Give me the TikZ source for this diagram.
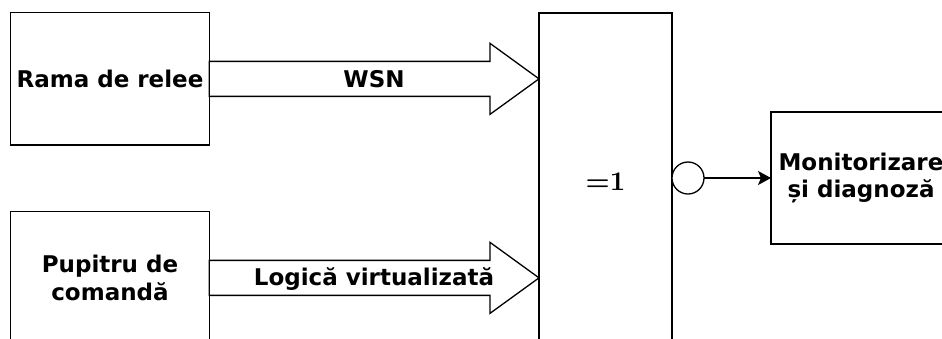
\documentclass[tikz,border=0pt]{standalone}
\usepackage{fontspec}
\newfontfamily\labelfont{DejaVu Sans}
\newfontfamily\gatefont{lmroman10-bold}[Extension=.otf]
\usetikzlibrary{calc,arrows.meta}
\begin{document}
\begin{tikzpicture}[x=1pt,y=-1pt,
  labeltext/.style={font=\labelfont\bfseries\fontsize{23}{27.6}\selectfont},
  box/.style={draw,line width=1.3pt,fill=white,rectangle,inner sep=0pt,
    outer sep=0pt,align=center,labeltext},
  lbl/.style={labeltext,inner sep=0pt,anchor=base},
  blockarrow/.style={draw,line width=1.3pt,fill=white,line join=miter}]
\clip (0,0) rectangle (942,338);
\fill[white] (0,0) rectangle (942,338);

% input boxes
\node[box,minimum width=198.6pt,minimum height=132.3pt] (rama) at (110,78.85) {Rama de relee};
\node[box,minimum width=198.6pt,minimum height=132.3pt] (pupitru) at (110,277.85) {Pupitru de\\comandă};

% XOR block with negated output
\node[box,minimum width=133pt,minimum height=330pt] (xor) at (605.5,178) {};
\node[inner sep=0pt,anchor=base,font=\gatefont\fontsize{27}{31}\selectfont] (eq) at (605.5,190.7) {=1};
\node[circle,draw,fill=white,line width=1.3pt,minimum size=32pt,inner sep=0pt,
  outer sep=0pt,anchor=west] (neg) at (xor.east) {};

% output box
\node[box,minimum width=180pt,minimum height=132pt] (monitor) at (861,178) {Monitorizare\\și diagnoză};

% block arrows into the XOR block
\draw[blockarrow] ($(rama.east)+(0,-17.5)$)
  -- ($(xor.west |- rama.east)+(-49,-17.5)$) -- ++(0,-18)
  -- (xor.west |- rama.east)
  -- ($(xor.west |- rama.east)+(-49,35.5)$) -- ++(0,-18)
  -- ($(rama.east)+(0,17.5)$) -- cycle;
\draw[blockarrow] ($(pupitru.east)+(0,-17.5)$)
  -- ($(xor.west |- pupitru.east)+(-49,-17.5)$) -- ++(0,-18)
  -- (xor.west |- pupitru.east)
  -- ($(xor.west |- pupitru.east)+(-49,35.5)$) -- ++(0,-18)
  -- ($(pupitru.east)+(0,17.5)$) -- cycle;

\node[lbl] (wsn) at (374,87) {WSN};
\node[lbl] (logica) at (374,285.8) {Logică virtualizată};

% output connector
\draw[line width=1.3pt,-{Stealth[length=13pt,width=14pt,inset=3pt]}] (neg) -- (monitor);
\end{tikzpicture}
\end{document}
